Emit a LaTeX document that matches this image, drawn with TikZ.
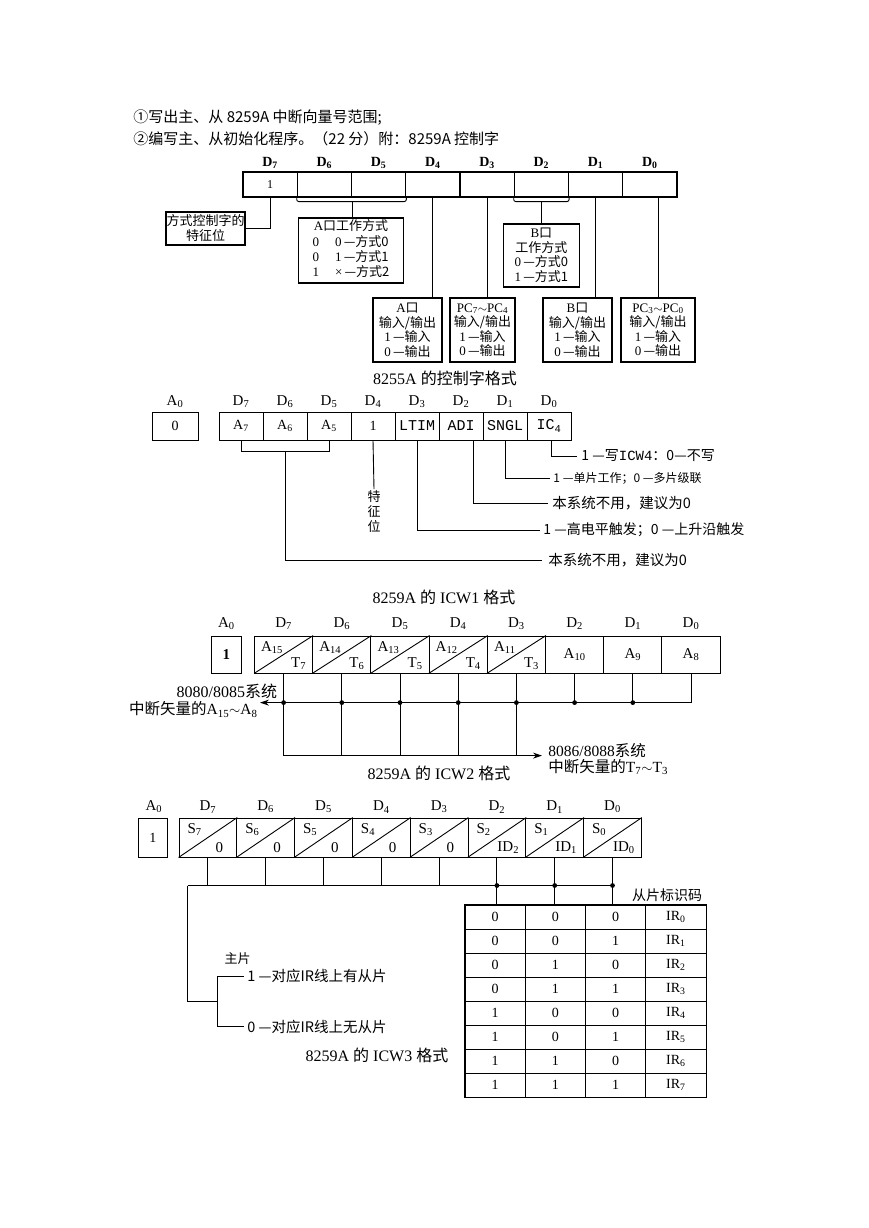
\documentclass[tikz,border=0pt]{standalone}
\usepackage{fontspec}
\setmainfont{Liberation Serif}
\newfontfamily\cjk{Noto Sans CJK SC}
\newfontfamily\monof{Liberation Mono}
\usetikzlibrary{calc,arrows.meta}
\newcommand\zh[1]{{\cjk #1}}
\newcommand\sbs[1]{\textsubscript{#1}}
\begin{document}
\begin{tikzpicture}[x=1pt,y=-1pt,line width=0.9pt,
  box/.style={draw,line width=1.1pt,inner sep=1pt,align=center},
  cellbox/.style={draw,line width=0.9pt,inner sep=0pt},
  lab/.style={inner sep=0pt,font=\fontsize{15}{17}\selectfont},
  txt/.style={inner sep=3pt,anchor=west},
  dot/.style={fill=black},
  arr/.style={-{Stealth[length=9pt,width=6pt]}}]
\fill[white] (0,0) rectangle (869,1228);
\useasboundingbox (0,0) rectangle (869,1228);

% ---------- header ----------
\node[anchor=west,inner sep=0pt,font=\cjk\fontsize{15}{17}\selectfont] (h1) at (133,118) {①写出主、从 8259A 中断向量号范围;};
\node[anchor=west,inner sep=0pt,font=\cjk\fontsize{15}{17}\selectfont] (h2) at (133,139) {②编写主、从初始化程序。（22 分）附：8259A 控制字};

% ---------- 8255A ----------
\foreach \i in {0,...,7}{
  \pgfmathsetmacro\cx{243+54.25*\i+27.125}
  \pgfmathtruncatemacro\d{7-\i}
  \node[cellbox,line width=1.1pt,minimum width=54.25,minimum height=25] (ra\i) at (\cx,184.5) {};
  \node[lab,font=\bfseries\fontsize{14}{16}\selectfont] (rad\i) at (\cx,163) {D\sbs{\d}};
}
\node[inner sep=0pt,font=\fontsize{12}{14}\selectfont] (raone) at (ra0) {1};
\node[box,minimum width=79,minimum height=33,inner sep=0pt,font=\cjk\fontsize{13}{15}\selectfont] (tz) at (205.5,228.5) {方式控制字的\\特征位};
\draw (ra0.south) |- (tz.east);

\node[box,minimum width=105,minimum height=65,inner sep=0pt,font=\fontsize{13}{14.5}\selectfont] (abox) at (351,250.5)
  {\begin{tabular}{@{}l@{\hspace{16pt}}l@{}}\multicolumn{2}{@{}c@{}}{A\zh{口工作方式}}\\0&0\,\zh{—方式0}\\0&1\,\zh{—方式1}\\1&×\,\zh{—方式2}\end{tabular}};
\draw[rounded corners=2pt] (ra1.south west) -- ++(0,4) -- ($(ra2.south east)+(0,4)$) -- (ra2.south east);
\coordinate (abr) at ($(ra1.south east)+(0,4)$);
\draw (abr) -- (abr |- abox.north);

\node[box,minimum width=76,minimum height=63,font=\fontsize{13}{14.5}\selectfont] (bbox) at (541.4,255.5)
  {B\zh{口}\\\zh{工作方式}\\0\,\zh{—方式0}\\1\,\zh{—方式1}};
\draw[rounded corners=2pt] (ra5.south west) -- ++(0,4) -- ($(ra5.south east)+(0,4)$) -- (ra5.south east);
\coordinate (bbr) at ($(ra5.south)+(0,4)$);
\draw (bbr) -- (bbr |- bbox.north);

\tikzset{iobox/.style={box,minimum height=64,inner sep=0pt,font=\fontsize{13}{14.5}\selectfont}}
\node[iobox,minimum width=69] (aio) at (407.5,330)
  {A\zh{口}\\\zh{输入/输出}\\1\,\zh{—输入}\\0\,\zh{—输出}};
\node[iobox,minimum width=65] (pc74) at (482.5,330)
  {PC\sbs{7}$\sim$PC\sbs{4}\\\zh{输入/输出}\\1\,\zh{—输入}\\0\,\zh{—输出}};
\node[iobox,minimum width=69] (bio) at (577.5,330)
  {B\zh{口}\\\zh{输入/输出}\\1\,\zh{—输入}\\0\,\zh{—输出}};
\node[iobox,minimum width=74] (pc30) at (658,330)
  {PC\sbs{3}$\sim$PC\sbs{0}\\\zh{输入/输出}\\1\,\zh{—输入}\\0\,\zh{—输出}};
\draw (ra3.south) -- (ra3.south |- aio.north);
\draw (ra4.south) -- (ra4.south |- pc74.north);
\draw (ra6.south) -- (ra6.south |- bio.north);
\draw (pc30.north |- ra7.south) -- (pc30.north);
\node[inner sep=0pt,font=\fontsize{16}{18}\selectfont] (cap1) at (445,378) {8255A \zh{的控制字格式}};

% ---------- ICW1 ----------
\node[lab] (a0l1) at (175,402) {A\sbs{0}};
\node[cellbox,minimum width=46,minimum height=28,font=\fontsize{14}{16}\selectfont] (a0b1) at (175,426) {0};
\foreach \i in {0,...,7}{
  \pgfmathsetmacro\cx{219+44*\i+22}
  \pgfmathtruncatemacro\d{7-\i}
  \node[cellbox,minimum width=44,minimum height=28] (rb\i) at (\cx,426) {};
  \node[lab] (rbd\i) at (\cx,402) {D\sbs{\d}};
}
\node[inner sep=0pt,font=\fontsize{14}{16}\selectfont] (rbt0) at (rb0) {A\sbs{7}};
\node[inner sep=0pt,font=\fontsize{14}{16}\selectfont] (rbt1) at (rb1) {A\sbs{6}};
\node[inner sep=0pt,font=\fontsize{14}{16}\selectfont] (rbt2) at (rb2) {A\sbs{5}};
\node[inner sep=0pt,font=\fontsize{14}{16}\selectfont] (rbt3) at (rb3) {1};
\node[inner sep=0pt,font=\monof\fontsize{15}{17}\selectfont] (rbt4) at (rb4) {LTIM};
\node[inner sep=0pt,font=\monof\fontsize{15}{17}\selectfont] (rbt5) at (rb5) {ADI};
\node[inner sep=0pt,font=\monof\fontsize{15}{17}\selectfont] (rbt6) at (rb6) {SNGL};
\node[inner sep=0pt,font=\monof\fontsize{15}{17}\selectfont] (rbt7) at (rb7) {IC\sbs{4}};

\node[txt,inner sep=4pt,font=\cjk\fontsize{14}{16}\selectfont] (n1) at (577,456) {1 —写{\monof ICW4}：0—不写};
\node[txt,font=\cjk\fontsize{12}{14}\selectfont] (n2) at (550,478) {1 —单片工作；0 —多片级联};
\node[txt,inner sep=4pt,font=\cjk\fontsize{14.5}{16}\selectfont] (n3) at (548,503) {本系统不用，建议为0};
\node[txt,font=\cjk\fontsize{14}{16}\selectfont] (n4) at (540,530) {1 —高电平触发；0 —上升沿触发};
\node[txt,inner sep=6pt,font=\cjk\fontsize{14.5}{16}\selectfont] (n5) at (542,560) {本系统不用，建议为0};
\node[anchor=north,inner sep=1pt,align=center,font=\cjk\fontsize{13}{15}\selectfont] (tzw) at (374,489) {特\\征\\位};

\draw (rb0.south) -- ++(0,11) -| (rb2.south);
\coordinate (brk1) at ($(rb1.south)+(0,11)$);
\draw (brk1) |- (n5.west);
\draw (rb3.south) -- (tzw.north);
\draw (rb4.south) |- (n4.west);
\draw ([xshift=12pt]rb5.south) |- (n3.west);
\draw (rb6.south) |- (n2.west);
\draw ([xshift=2pt]rb7.south) |- (n1.west);
\node[inner sep=0pt,font=\fontsize{16}{18}\selectfont] (cap2) at (444,597) {8259A \zh{的} ICW1 \zh{格式}};

% ---------- ICW2 ----------
\node[lab] (a0l2) at (226.3,624) {A\sbs{0}};
\node[cellbox,minimum width=29.5,minimum height=37,font=\bfseries\fontsize{15}{17}\selectfont] (a0b2) at (226.3,654.5) {1};
\foreach \i in {0,...,7}{
  \pgfmathsetmacro\cx{254.5+58.2*\i+29.1}
  \pgfmathtruncatemacro\d{7-\i}
  \pgfmathtruncatemacro\a{15-\i}
  \node[cellbox,minimum width=58.2,minimum height=37] (rc\i) at (\cx,654.5) {};
  \node[lab] (rcd\i) at (\cx,624) {D\sbs{\d}};
  \ifnum\i<5
    \draw (rc\i.south west) -- (rc\i.north east);
    \node[inner sep=0pt,font=\fontsize{15}{17}\selectfont] (rcu\i) at ($(rc\i.north west)+(18,12)$) {A\sbs{\a}};
    \node[inner sep=0pt,font=\fontsize{15}{17}\selectfont] (rcl\i) at ($(rc\i.south east)+(-14.5,-10)$) {T\sbs{\d}};
  \else
    \node[inner sep=0pt,font=\fontsize{15}{17}\selectfont] (rcu\i) at (rc\i) {A\sbs{\a}};
  \fi
}
\coordinate (ub) at (0,702.6);
\coordinate (lb) at (0,755.6);
\coordinate (upArr) at (260,702.6);
\coordinate (dnArr) at (542,755.6);
\foreach \i in {0,...,4}{\draw (rc\i.south) -- (rc\i.south |- lb);}
\foreach \i in {5,6}{\draw (rc\i.south) -- (rc\i.south |- ub);}
\draw[arr] (rc7.south) |- (upArr);
\foreach \i in {0,...,6}{\fill[dot] (rc\i.south |- ub) circle (2.4);}
\draw[arr] (rc0.south |- lb) -- (dnArr);
\node[anchor=east,inner sep=0pt,font=\fontsize{16}{18}\selectfont] (l1a) at (277.5,691.5) {8080/8085\zh{系统}};
\node[anchor=east,inner sep=0pt,font=\fontsize{15.5}{18}\selectfont] (l1b) at (258,709.5) {\zh{中断矢量的}A\sbs{15}$\sim$A\sbs{8}};
\node[anchor=west,inner sep=0pt,align=left,font=\fontsize{15.5}{16}\selectfont] (r1) at (548,759) {8086/8088\zh{系统}\\\zh{中断矢量的}T\sbs{7}$\sim$T\sbs{3}};
\node[inner sep=0pt,font=\fontsize{16}{18}\selectfont] (cap3) at (439,773) {8259A \zh{的} ICW2 \zh{格式}};

% ---------- ICW3 ----------
\node[lab] (a0l3) at (153.8,807) {A\sbs{0}};
\node[cellbox,minimum width=29,minimum height=39,font=\fontsize{14}{16}\selectfont] (a0b3) at (152.8,837.5) {1};
\foreach \i in {0,...,7}{
  \pgfmathsetmacro\cx{179+57.8*\i+28.9}
  \pgfmathtruncatemacro\d{7-\i}
  \node[cellbox,minimum width=57.8,minimum height=39] (rd\i) at (\cx,837.5) {};
  \node[lab] (rdd\i) at (\cx,807) {D\sbs{\d}};
  \draw (rd\i.south west) -- (rd\i.north east);
  \node[inner sep=0pt,font=\fontsize{15}{17}\selectfont] (rdu\i) at ($(rd\i.north west)+(16,12)$) {S\sbs{\d}};
  \ifnum\i<5
    \node[inner sep=0pt,font=\fontsize{15}{17}\selectfont] (rdl\i) at ($(rd\i.south east)+(-18,-10)$) {0};
  \else
    \node[inner sep=0pt,font=\fontsize{15}{17}\selectfont] (rdl\i) at ($(rd\i.south east)+(-18,-10)$) {ID\sbs{\d}};
  \fi
}
% table
\foreach \r in {0,...,7}{
  \pgfmathtruncatemacro\bA{floor(\r/4)}
  \pgfmathtruncatemacro\bB{mod(floor(\r/2),2)}
  \pgfmathtruncatemacro\bC{mod(\r,2)}
  \pgfmathsetmacro\ry{905+24*\r+12}
  \node[cellbox,minimum width=60.25,minimum height=24,font=\fontsize{14}{16}\selectfont] (tb\r0) at (495.125,\ry) {\bA};
  \node[cellbox,minimum width=60.25,minimum height=24,font=\fontsize{14}{16}\selectfont] (tb\r1) at (555.375,\ry) {\bB};
  \node[cellbox,minimum width=60.25,minimum height=24,font=\fontsize{14}{16}\selectfont] (tb\r2) at (615.625,\ry) {\bC};
  \node[cellbox,minimum width=60.25,minimum height=24,font=\fontsize{14}{16}\selectfont] (tb\r3) at (675.875,\ry) {IR\sbs{\r}};
}
\draw[line width=1.3pt] (tb00.north west) rectangle (tb73.south east);
\node[inner sep=0pt,font=\cjk\fontsize{14}{16}\selectfont] (slid) at (667,895) {从片标识码};

\coordinate (b3) at (187.5,885.5);
\foreach \i in {0,...,4}{\draw (rd\i.south) -- (rd\i.south |- b3);}
\draw (b3) -- (rd7.south |- b3);
\draw (rd5.south) -- (rd5.south |- tb00.north);
\draw (rd6.south) -- (rd6.south |- tb01.north);
\draw (rd7.south) -- (rd7.south |- tb02.north);
\foreach \i in {5,6,7}{\fill[dot] (rd\i.south |- b3) circle (2.4);}

\coordinate (mbr) at (217.5,1001.3);
\coordinate (m1) at (217.5,976);
\coordinate (m0) at (217.5,1026.5);
\node[txt,font=\cjk\fontsize{14.5}{16}\selectfont] (y1) at (244,976) {1 —对应IR线上有从片};
\node[txt,font=\cjk\fontsize{14.5}{16}\selectfont] (y0) at (244,1026.5) {0 —对应IR线上无从片};
\node[inner sep=0pt,font=\cjk\fontsize{13}{15}\selectfont] (zp) at (237.5,959) {主片};
\draw (b3) |- (mbr);
\draw (m1) -- (m0);
\draw (m1) -- (y1.west);
\draw (m0) -- (y0.west);
\node[inner sep=0pt,font=\fontsize{16}{18}\selectfont] (cap4) at (377,1055) {8259A \zh{的} ICW3 \zh{格式}};
\end{tikzpicture}
\end{document}
